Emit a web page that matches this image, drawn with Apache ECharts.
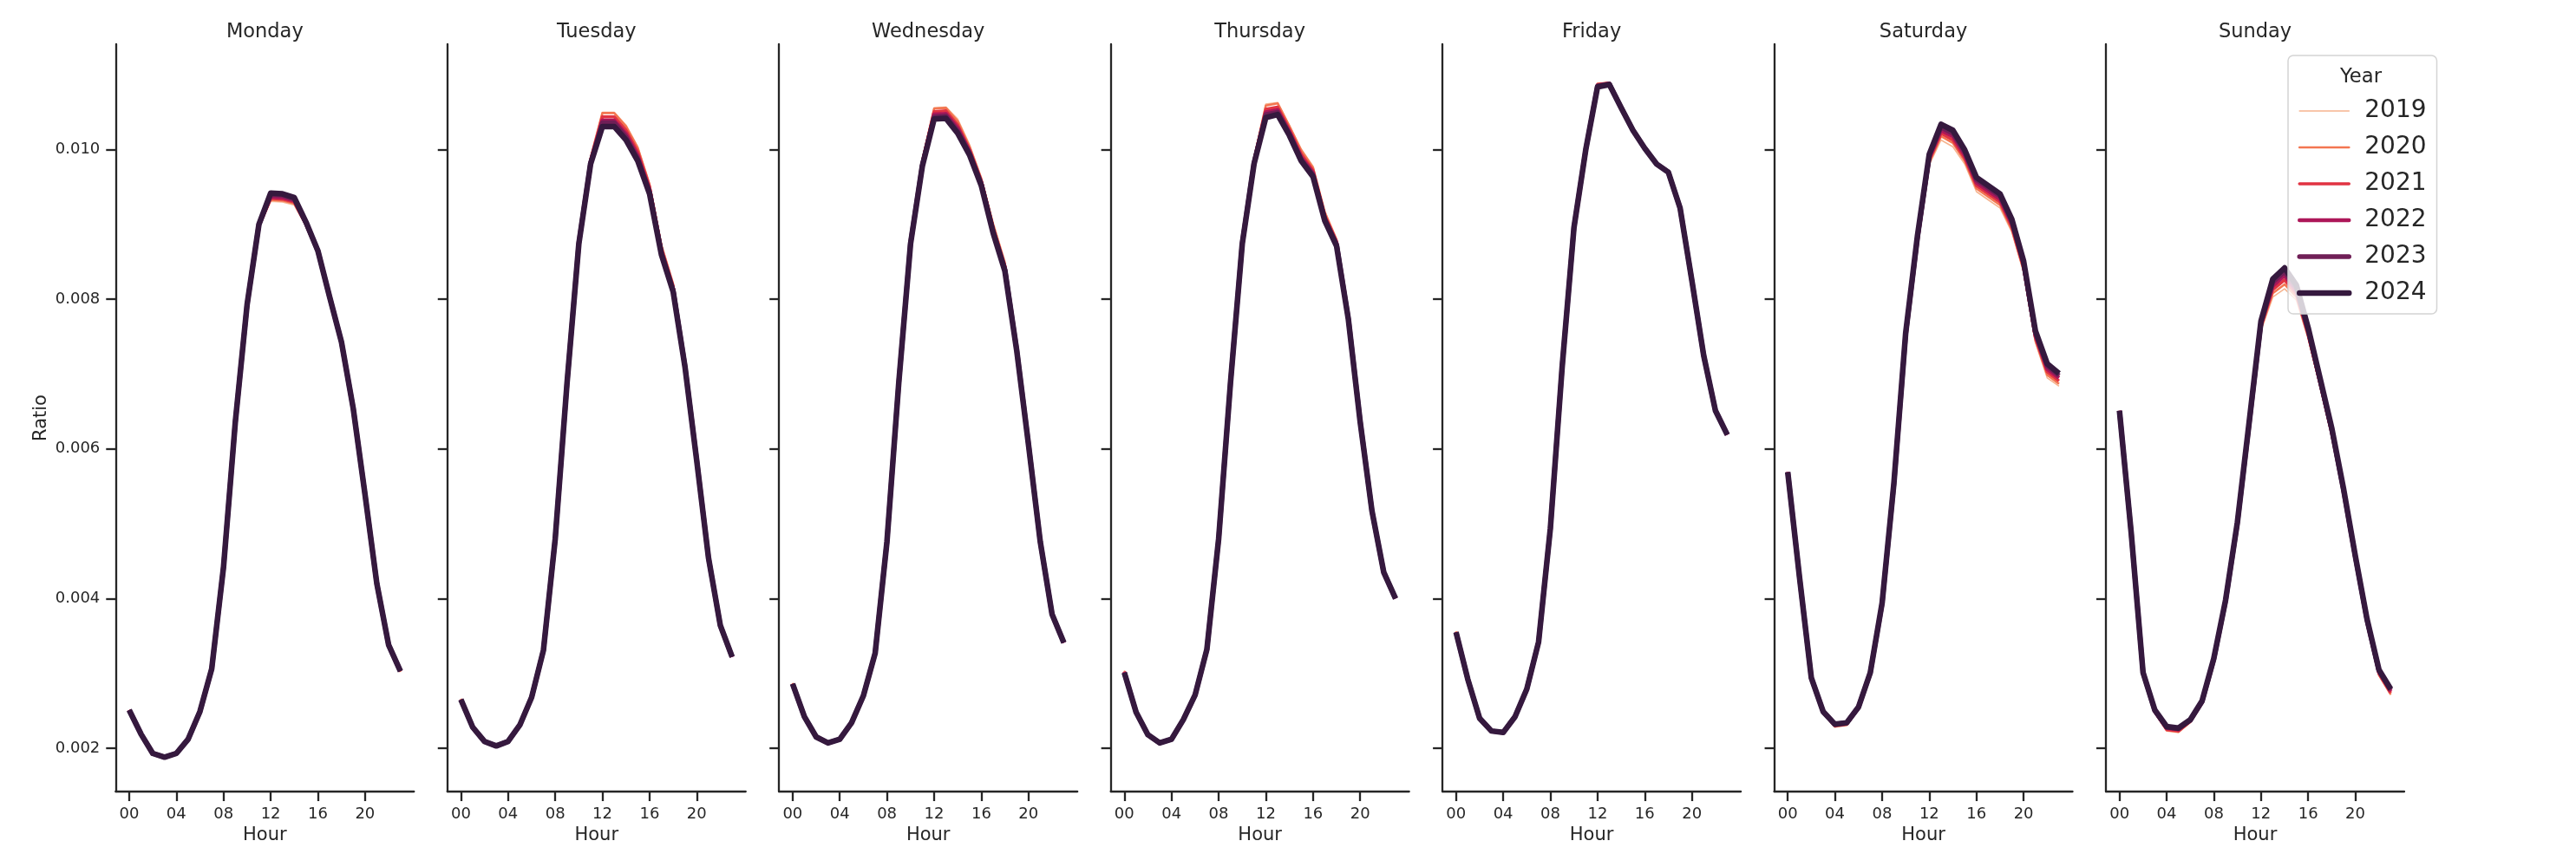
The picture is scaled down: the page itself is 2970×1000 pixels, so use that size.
<!DOCTYPE html>
<html>
<head>
<meta charset="utf-8">
<script src="https://cdn.jsdelivr.net/npm/echarts@6/dist/echarts.min.js"></script>
<style>
html,body{margin:0;padding:0;background:#fff;}
#chart{width:2970px;height:1000px;}
</style>
</head>
<body>
<div id="chart"></div>
<script>
// ---------------- DATA ----------------
const hours = [0,1,2,3,4,5,6,7,8,9,10,11,12,13,14,15,16,17,18,19,20,21,22,23];
const days = ['Monday','Tuesday','Wednesday','Thursday','Friday','Saturday','Sunday'];
const years = ['2019','2020','2021','2022','2023','2024'];
const xTickValues = [0,4,8,12,16,20];
const xTickLabels = ['00','04','08','12','16','20'];
const yTickValues = [0.002,0.004,0.006,0.008,0.010];
const yTickLabels = ['0.002','0.004','0.006','0.008','0.010'];

const mon2019 = [0.00251,0.00219,0.00192,0.00186,0.00192,0.00212,0.00249,0.00306,0.00441,0.00634,0.00790,0.00896,0.00931,0.00930,0.00926,0.00898,0.00861,0.00800,0.00740,0.00652,0.00538,0.00420,0.00338,0.00302];
const mon2020 = [0.00251,0.00219,0.00192,0.00187,0.00192,0.00212,0.00249,0.00306,0.00441,0.00635,0.00791,0.00897,0.00933,0.00932,0.00928,0.00899,0.00862,0.00801,0.00741,0.00653,0.00538,0.00420,0.00338,0.00302];
const mon2021 = [0.00251,0.00219,0.00193,0.00187,0.00193,0.00212,0.00249,0.00306,0.00441,0.00635,0.00791,0.00898,0.00935,0.00934,0.00930,0.00900,0.00863,0.00801,0.00741,0.00653,0.00539,0.00420,0.00338,0.00303];
const mon2022 = [0.00251,0.00219,0.00193,0.00188,0.00193,0.00212,0.00249,0.00306,0.00442,0.00636,0.00792,0.00899,0.00937,0.00936,0.00932,0.00901,0.00864,0.00802,0.00742,0.00654,0.00539,0.00420,0.00338,0.00303];
const mon2023 = [0.00251,0.00219,0.00193,0.00188,0.00193,0.00212,0.00249,0.00306,0.00442,0.00636,0.00793,0.00900,0.00940,0.00939,0.00934,0.00902,0.00865,0.00803,0.00743,0.00654,0.00539,0.00420,0.00338,0.00303];
const mon2024 = [0.00251,0.00219,0.00193,0.00188,0.00193,0.00212,0.00249,0.00306,0.00442,0.00636,0.00793,0.00900,0.00942,0.00941,0.00936,0.00903,0.00865,0.00803,0.00743,0.00654,0.00539,0.00420,0.00338,0.00303];

const tue2019 = [0.00266,0.00229,0.00209,0.00203,0.00209,0.00231,0.00268,0.00332,0.00482,0.00692,0.00880,0.00990,0.01050,0.01050,0.01033,0.01004,0.00955,0.00874,0.00822,0.00718,0.00590,0.00457,0.00366,0.00323];
const tue2020 = [0.00266,0.00229,0.00209,0.00203,0.00209,0.00231,0.00268,0.00332,0.00482,0.00691,0.00879,0.00989,0.01049,0.01049,0.01031,0.01002,0.00953,0.00872,0.00820,0.00716,0.00589,0.00456,0.00365,0.00323];
const tue2021 = [0.00265,0.00228,0.00209,0.00203,0.00209,0.00231,0.00268,0.00331,0.00481,0.00690,0.00877,0.00986,0.01044,0.01044,0.01026,0.00997,0.00950,0.00868,0.00817,0.00714,0.00587,0.00455,0.00365,0.00322];
const tue2022 = [0.00265,0.00228,0.00209,0.00203,0.00209,0.00231,0.00268,0.00331,0.00481,0.00689,0.00876,0.00984,0.01039,0.01039,0.01021,0.00992,0.00946,0.00865,0.00814,0.00712,0.00586,0.00455,0.00364,0.00322];
const tue2023 = [0.00265,0.00228,0.00209,0.00203,0.00209,0.00231,0.00268,0.00331,0.00480,0.00688,0.00875,0.00982,0.01036,0.01036,0.01017,0.00988,0.00943,0.00862,0.00812,0.00711,0.00585,0.00454,0.00364,0.00322];
const tue2024 = [0.00265,0.00228,0.00209,0.00203,0.00209,0.00231,0.00268,0.00331,0.00480,0.00688,0.00874,0.00981,0.01031,0.01031,0.01013,0.00985,0.00941,0.00860,0.00810,0.00710,0.00584,0.00454,0.00364,0.00322];

const wed2019 = [0.00287,0.00243,0.00215,0.00206,0.00212,0.00234,0.00270,0.00328,0.00478,0.00692,0.00880,0.00988,0.01056,0.01057,0.01041,0.01007,0.00963,0.00903,0.00851,0.00740,0.00612,0.00479,0.00381,0.00342];
const wed2020 = [0.00287,0.00243,0.00215,0.00206,0.00212,0.00234,0.00270,0.00328,0.00478,0.00691,0.00879,0.00986,0.01055,0.01056,0.01038,0.01004,0.00961,0.00900,0.00848,0.00738,0.00610,0.00478,0.00380,0.00342];
const wed2021 = [0.00286,0.00242,0.00215,0.00207,0.00212,0.00234,0.00270,0.00327,0.00477,0.00690,0.00877,0.00983,0.01051,0.01052,0.01033,0.01000,0.00958,0.00896,0.00845,0.00736,0.00609,0.00477,0.00380,0.00341];
const wed2022 = [0.00286,0.00242,0.00215,0.00207,0.00212,0.00234,0.00270,0.00327,0.00477,0.00689,0.00876,0.00981,0.01047,0.01048,0.01029,0.00998,0.00956,0.00893,0.00842,0.00734,0.00608,0.00477,0.00379,0.00341];
const wed2023 = [0.00286,0.00242,0.00215,0.00207,0.00212,0.00234,0.00270,0.00327,0.00476,0.00688,0.00875,0.00979,0.01044,0.01045,0.01025,0.00995,0.00954,0.00891,0.00840,0.00733,0.00607,0.00476,0.00379,0.00341];
const wed2024 = [0.00286,0.00242,0.00215,0.00207,0.00212,0.00234,0.00270,0.00327,0.00476,0.00688,0.00874,0.00978,0.01041,0.01042,0.01022,0.00993,0.00952,0.00889,0.00838,0.00732,0.00606,0.00476,0.00379,0.00341];

const thu2019 = [0.00304,0.00249,0.00218,0.00206,0.00212,0.00238,0.00272,0.00333,0.00482,0.00692,0.00880,0.00990,0.01061,0.01063,0.01033,0.01001,0.00978,0.00918,0.00881,0.00780,0.00641,0.00520,0.00437,0.00401];
const thu2020 = [0.00303,0.00249,0.00218,0.00206,0.00212,0.00238,0.00272,0.00333,0.00481,0.00691,0.00879,0.00988,0.01059,0.01062,0.01031,0.00999,0.00976,0.00916,0.00879,0.00779,0.00640,0.00520,0.00437,0.00401];
const thu2021 = [0.00302,0.00248,0.00218,0.00207,0.00212,0.00238,0.00271,0.00332,0.00481,0.00690,0.00877,0.00985,0.01054,0.01057,0.01027,0.00994,0.00972,0.00912,0.00877,0.00777,0.00639,0.00519,0.00436,0.00401];
const thu2022 = [0.00302,0.00248,0.00218,0.00207,0.00212,0.00238,0.00271,0.00332,0.00480,0.00689,0.00876,0.00983,0.01050,0.01053,0.01024,0.00990,0.00969,0.00909,0.00875,0.00775,0.00638,0.00518,0.00436,0.00400];
const thu2023 = [0.00301,0.00248,0.00218,0.00207,0.00212,0.00238,0.00271,0.00332,0.00480,0.00688,0.00875,0.00982,0.01047,0.01050,0.01021,0.00987,0.00966,0.00907,0.00873,0.00774,0.00637,0.00517,0.00435,0.00400];
const thu2024 = [0.00301,0.00248,0.00218,0.00207,0.00212,0.00238,0.00271,0.00332,0.00480,0.00688,0.00874,0.00981,0.01043,0.01047,0.01019,0.00985,0.00964,0.00905,0.00871,0.00773,0.00636,0.00517,0.00435,0.00400];

const fri2019 = [0.00356,0.00292,0.00240,0.00223,0.00221,0.00242,0.00279,0.00342,0.00495,0.00711,0.00897,0.01001,0.01089,0.01090,0.01059,0.01028,0.01003,0.00982,0.00971,0.00923,0.00826,0.00726,0.00652,0.00620];
const fri2020 = [0.00356,0.00292,0.00240,0.00223,0.00221,0.00242,0.00279,0.00342,0.00495,0.00711,0.00897,0.01001,0.01088,0.01089,0.01058,0.01027,0.01003,0.00982,0.00971,0.00923,0.00826,0.00726,0.00652,0.00620];
const fri2021 = [0.00355,0.00292,0.00240,0.00223,0.00221,0.00242,0.00279,0.00342,0.00494,0.00710,0.00896,0.01000,0.01087,0.01089,0.01058,0.01027,0.01002,0.00981,0.00970,0.00922,0.00825,0.00725,0.00651,0.00619];
const fri2022 = [0.00355,0.00292,0.00240,0.00223,0.00221,0.00242,0.00279,0.00342,0.00494,0.00710,0.00896,0.01000,0.01086,0.01088,0.01057,0.01026,0.01002,0.00981,0.00970,0.00922,0.00825,0.00725,0.00651,0.00619];
const fri2023 = [0.00355,0.00292,0.00240,0.00223,0.00221,0.00242,0.00279,0.00342,0.00494,0.00710,0.00896,0.01000,0.01085,0.01088,0.01056,0.01026,0.01002,0.00981,0.00970,0.00922,0.00825,0.00725,0.00651,0.00619];
const fri2024 = [0.00355,0.00292,0.00240,0.00223,0.00221,0.00242,0.00279,0.00342,0.00494,0.00710,0.00896,0.01000,0.01084,0.01087,0.01056,0.01026,0.01002,0.00981,0.00970,0.00922,0.00825,0.00725,0.00651,0.00619];

const sat2019 = [0.00569,0.00428,0.00294,0.00247,0.00228,0.00231,0.00253,0.00299,0.00391,0.00548,0.00745,0.00872,0.00980,0.01013,0.01004,0.00981,0.00944,0.00933,0.00922,0.00890,0.00836,0.00742,0.00695,0.00684];
const sat2020 = [0.00569,0.00428,0.00294,0.00247,0.00229,0.00231,0.00253,0.00299,0.00391,0.00549,0.00747,0.00875,0.00983,0.01018,0.01009,0.00985,0.00948,0.00937,0.00926,0.00893,0.00839,0.00745,0.00699,0.00687];
const sat2021 = [0.00569,0.00428,0.00294,0.00248,0.00230,0.00232,0.00254,0.00300,0.00392,0.00550,0.00749,0.00878,0.00986,0.01022,0.01013,0.00989,0.00952,0.00941,0.00930,0.00897,0.00842,0.00749,0.00703,0.00691];
const sat2022 = [0.00569,0.00428,0.00294,0.00248,0.00231,0.00233,0.00254,0.00300,0.00393,0.00552,0.00751,0.00880,0.00989,0.01026,0.01018,0.00993,0.00956,0.00945,0.00934,0.00901,0.00846,0.00752,0.00707,0.00695];
const sat2023 = [0.00569,0.00428,0.00294,0.00249,0.00232,0.00234,0.00255,0.00301,0.00393,0.00553,0.00753,0.00883,0.00992,0.01030,0.01022,0.00997,0.00960,0.00949,0.00938,0.00904,0.00849,0.00755,0.00711,0.00698];
const sat2024 = [0.00569,0.00428,0.00294,0.00249,0.00232,0.00234,0.00255,0.00301,0.00394,0.00554,0.00755,0.00885,0.00994,0.01034,0.01026,0.01000,0.00963,0.00952,0.00941,0.00907,0.00851,0.00758,0.00714,0.00701];

const sun2019 = [0.00651,0.00487,0.00299,0.00247,0.00223,0.00221,0.00234,0.00259,0.00315,0.00393,0.00495,0.00626,0.00758,0.00803,0.00814,0.00799,0.00747,0.00684,0.00617,0.00538,0.00450,0.00365,0.00297,0.00271];
const sun2020 = [0.00651,0.00487,0.00299,0.00248,0.00224,0.00222,0.00235,0.00260,0.00316,0.00394,0.00497,0.00628,0.00761,0.00808,0.00820,0.00803,0.00750,0.00686,0.00619,0.00540,0.00451,0.00366,0.00298,0.00272];
const sun2021 = [0.00651,0.00487,0.00300,0.00249,0.00225,0.00223,0.00236,0.00261,0.00317,0.00395,0.00498,0.00630,0.00764,0.00813,0.00826,0.00807,0.00753,0.00688,0.00621,0.00542,0.00453,0.00368,0.00300,0.00274];
const sun2022 = [0.00651,0.00487,0.00300,0.00250,0.00227,0.00225,0.00237,0.00262,0.00318,0.00396,0.00499,0.00632,0.00766,0.00818,0.00832,0.00811,0.00756,0.00691,0.00624,0.00544,0.00454,0.00369,0.00302,0.00276];
const sun2023 = [0.00651,0.00487,0.00301,0.00250,0.00228,0.00226,0.00237,0.00262,0.00319,0.00397,0.00501,0.00634,0.00769,0.00823,0.00837,0.00815,0.00759,0.00693,0.00626,0.00545,0.00456,0.00371,0.00304,0.00278];
const sun2024 = [0.00651,0.00487,0.00301,0.00251,0.00229,0.00227,0.00238,0.00263,0.00320,0.00398,0.00502,0.00636,0.00771,0.00827,0.00842,0.00819,0.00762,0.00695,0.00628,0.00547,0.00457,0.00372,0.00305,0.00279];

const dayData = [
  [mon2019, mon2020, mon2021, mon2022, mon2023, mon2024],
  [tue2019, tue2020, tue2021, tue2022, tue2023, tue2024],
  [wed2019, wed2020, wed2021, wed2022, wed2023, wed2024],
  [thu2019, thu2020, thu2021, thu2022, thu2023, thu2024],
  [fri2019, fri2020, fri2021, fri2022, fri2023, fri2024],
  [sat2019, sat2020, sat2021, sat2022, sat2023, sat2024],
  [sun2019, sun2020, sun2021, sun2022, sun2023, sun2024]
];

// ---------------- STYLE ----------------
const palette = ['#f6b48f','#f37651','#e13342','#ad1759','#701f57','#35193e'];
const widths = [1.6, 2.6, 3.55, 4.5, 5.5, 6.5];
const ink = '#262626';
const FONT = 'DejaVu Sans';
const gridLeft0 = 133.3, gridStep = 382.45, gridW = 344, gridTop = 51, gridH = 862;

const grids = [], xAxes = [], yAxes = [], series = [], graphics = [];
days.forEach((day, k) => {
  const left = gridLeft0 + gridStep * k;
  grids.push({left: left, top: gridTop, width: gridW, height: gridH, containLabel: false, outerBoundsMode: 'none'});
  xAxes.push({
    type: 'value', gridIndex: k, min: -1.15, max: 24.15,
    splitLine: {show: false},
    axisLine: {show: true, onZero: false, lineStyle: {color: ink, width: 2.3}},
    axisTick: {show: true, length: 11, lineStyle: {color: ink, width: 2.3}, customValues: xTickValues},
    axisLabel: {show: true, customValues: xTickValues, margin: 17, fontSize: 18, fontFamily: FONT, color: ink,
      formatter: v => { const i = xTickValues.indexOf(Math.round(v)); return i >= 0 ? xTickLabels[i] : ''; }},
    name: 'Hour', nameLocation: 'middle', nameGap: 38,
    nameTextStyle: {fontSize: 21, fontFamily: FONT, color: ink}
  });
  yAxes.push({
    type: 'value', gridIndex: k, min: 0.00142, max: 0.01141,
    splitLine: {show: false},
    axisLine: {show: true, onZero: false, lineStyle: {color: ink, width: 2.3}},
    axisTick: {show: true, length: 11, lineStyle: {color: ink, width: 2.3}, customValues: yTickValues},
    axisLabel: {show: k === 0, customValues: yTickValues, margin: 18, fontSize: 18, fontFamily: FONT, color: ink,
      formatter: v => { let best = 0; yTickValues.forEach((t, i) => { if (Math.abs(t - v) < Math.abs(yTickValues[best] - v)) best = i; }); return yTickLabels[best]; }},
    name: k === 0 ? 'Ratio' : '', nameLocation: 'middle', nameGap: 75,
    nameTextStyle: {fontSize: 21, fontFamily: FONT, color: ink}
  });
  graphics.push({
    type: 'text', x: left + gridW / 2, y: 37, z: 100,
    style: {text: day, font: '22.5px "DejaVu Sans"', fill: ink, textAlign: 'center', textVerticalAlign: 'middle', align: 'center', verticalAlign: 'middle'}
  });
  years.forEach((yr, j) => {
    const vals = dayData[k][j];
    series.push({
      type: 'line', name: yr, xAxisIndex: k, yAxisIndex: k,
      data: hours.map((h, i) => [h, vals[i]]),
      symbol: 'none', showSymbol: false, smooth: false, silent: true,
      lineStyle: {color: palette[j], width: widths[j], join: 'round', cap: 'butt'},
      itemStyle: {color: palette[j]},
      z: 2 + j * 0.01
    });
  });
});

graphics.push({
  type: 'text', x: 2722, y: 89, z: 100,
  style: {text: 'Year', font: '22.7px "DejaVu Sans"', fill: ink, textAlign: 'center', textVerticalAlign: 'middle', align: 'center', verticalAlign: 'middle'}
});

const option = {
  backgroundColor: '#ffffff',
  animation: false,
  textStyle: {fontFamily: FONT},
  grid: grids,
  xAxis: xAxes,
  yAxis: yAxes,
  series: series,
  graphic: graphics,
  legend: {
    orient: 'vertical', left: 2638, top: 64,
    padding: [50, 12, 10, 10],
    itemWidth: 57, itemHeight: 20, itemGap: 14,
    selectedMode: false,
    backgroundColor: 'rgba(255,255,255,0.8)',
    borderColor: '#d4d4d4', borderWidth: 1.5, borderRadius: 6,
    itemStyle: {opacity: 0, borderWidth: 0},
    lineStyle: {width: 'inherit', cap: 'round'},
    textStyle: {fontSize: 28, fontFamily: FONT, color: ink, lineHeight: 28, padding: [0, 0, 0, 13]},
    data: years
  }
};

const chart = echarts.init(document.getElementById('chart'), null, {renderer: 'canvas', width: 2970, height: 1000});
chart.setOption(option);
</script>
</body>
</html>
